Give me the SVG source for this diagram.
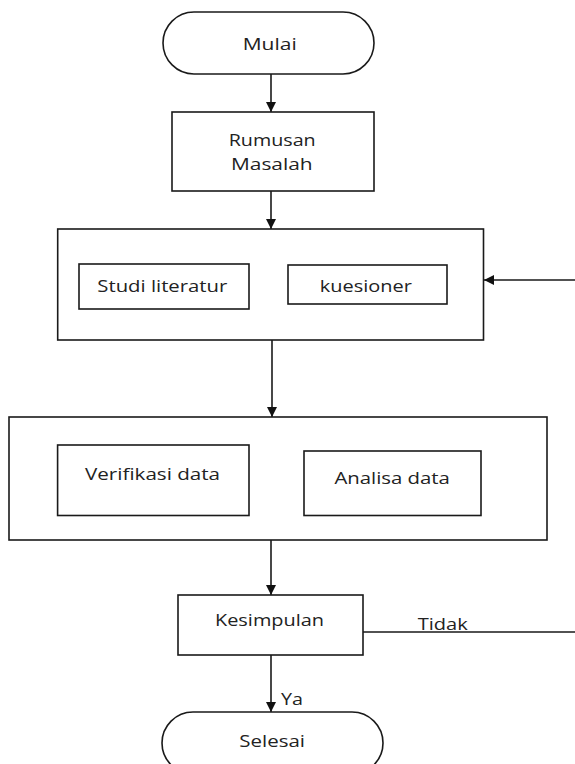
<svg xmlns="http://www.w3.org/2000/svg" width="575" height="764" viewBox="0 0 575 764">
<style>
.s{fill:#fff;stroke:#1a1a1a;stroke-width:1.6}
.t{font-family:"Open Sans","DejaVu Sans",sans-serif;font-size:16px;fill:#222}
.c{fill:none;stroke:#1a1a1a;stroke-width:1.6}
</style>
<defs>
<marker id="ah" viewBox="0 0 10 10" refX="10" refY="5" markerWidth="10" markerHeight="10" markerUnits="userSpaceOnUse" orient="auto">
<path d="M0,0 L10,5 L0,10 Z" fill="#111"/>
</marker>
</defs>
<g id="connectors">
<line class="c" x1="271" y1="74" x2="271" y2="112" marker-end="url(#ah)"/>
<line class="c" x1="271" y1="191" x2="271" y2="229" marker-end="url(#ah)"/>
<line class="c" x1="272" y1="340" x2="272" y2="417" marker-end="url(#ah)"/>
<line class="c" x1="271" y1="540" x2="271" y2="595" marker-end="url(#ah)"/>
<line class="c" x1="271" y1="655" x2="271" y2="712" marker-end="url(#ah)"/>
<path class="c" d="M363,632 H578 V280 H484" marker-end="url(#ah)"/>
<text class="t" x="417.7" y="630" textLength="50" lengthAdjust="spacingAndGlyphs">Tidak</text>
<text class="t" x="281" y="705" textLength="22" lengthAdjust="spacingAndGlyphs">Ya</text>
</g>
<g id="mulai">
<rect class="s" x="163" y="12" width="211" height="62" rx="31"/>
<text class="t" x="242.7" y="50" textLength="54" lengthAdjust="spacingAndGlyphs">Mulai</text>
</g>
<g id="rumusan">
<rect class="s" x="172" y="112" width="202" height="79"/>
<text class="t" x="228.7" y="146" textLength="87" lengthAdjust="spacingAndGlyphs">Rumusan</text>
<text class="t" x="231" y="170" textLength="81.7" lengthAdjust="spacingAndGlyphs">Masalah</text>
</g>
<g id="pengumpulan">
<rect class="s" x="57.7" y="229" width="425.8" height="111"/>
</g>
<g id="studi">
<rect class="s" x="79" y="264" width="170" height="45"/>
<text class="t" x="97.3" y="292.3" textLength="130" lengthAdjust="spacingAndGlyphs">Studi literatur</text>
</g>
<g id="kuesioner">
<rect class="s" x="288" y="265" width="159" height="39"/>
<text class="t" x="319.8" y="291.6" textLength="92" lengthAdjust="spacingAndGlyphs">kuesioner</text>
</g>
<g id="pengolahan">
<rect class="s" x="9" y="417" width="538" height="123"/>
</g>
<g id="verifikasi">
<rect class="s" x="57.6" y="445" width="191.4" height="70.5"/>
<text class="t" x="85" y="480" textLength="135" lengthAdjust="spacingAndGlyphs">Verifikasi data</text>
</g>
<g id="analisa">
<rect class="s" x="304" y="451" width="177" height="64.5"/>
<text class="t" x="334.4" y="483.6" textLength="115.5" lengthAdjust="spacingAndGlyphs">Analisa data</text>
</g>
<g id="kesimpulan">
<rect class="s" x="178" y="595" width="185" height="60"/>
<text class="t" x="215" y="625.7" textLength="109" lengthAdjust="spacingAndGlyphs">Kesimpulan</text>
</g>
<g id="selesai">
<rect class="s" x="162" y="712" width="221" height="62" rx="31"/>
<text class="t" x="239.3" y="746.7" textLength="65.7" lengthAdjust="spacingAndGlyphs">Selesai</text>
</g>
</svg>
